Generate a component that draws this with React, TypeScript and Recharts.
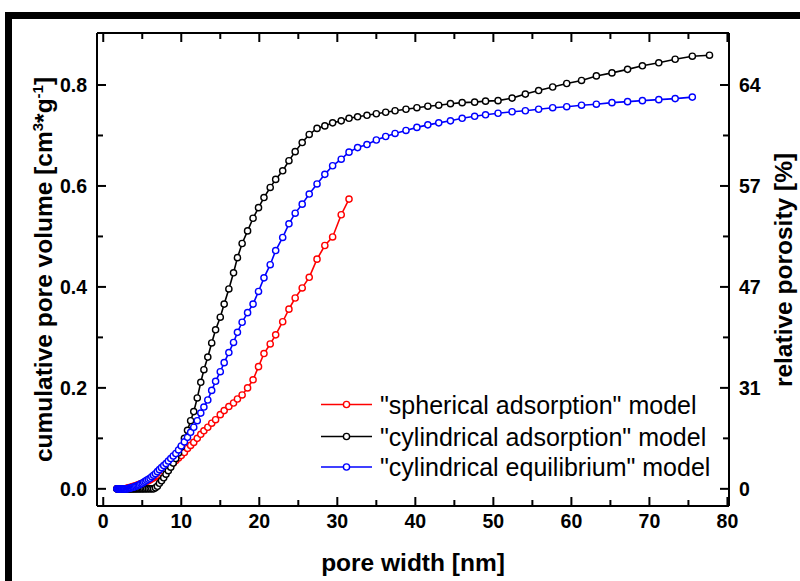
import React from "react";
import { LineChart, Line, XAxis, YAxis } from "recharts";

// pore width [nm] grid shared by the three models
const poreWidth = [
  1.75, 1.81, 1.88, 1.95, 2.02, 2.09, 2.17, 2.25, 2.33, 2.42,
  2.51, 2.6, 2.7, 2.8, 2.9, 3.01, 3.12, 3.24, 3.36, 3.48,
  3.61, 3.74, 3.88, 4.02, 4.17, 4.32, 4.48, 4.65, 4.82, 5.0,
  5.18, 5.37, 5.57, 5.78, 6.0, 6.22, 6.45, 6.69, 6.94, 7.2,
  7.47, 7.75, 8.04, 8.34, 8.65, 8.97, 9.3, 9.65, 10.0, 10.4,
  10.8, 11.2, 11.6, 12.05, 12.5, 12.9, 13.4, 13.9, 14.4, 15.0,
  15.5, 16.1, 16.7, 17.2, 17.8, 18.5, 19.2, 19.9, 20.6, 21.4,
  22.1, 23.0, 23.8, 24.6, 25.5, 26.4, 27.4, 28.4, 29.4, 30.5,
  31.5, 32.6, 33.8, 35.0, 36.2, 37.4, 38.8, 40.2, 41.6, 43.0,
  44.5, 46.0, 47.6, 49.0, 50.6, 52.4, 54.1, 55.8, 57.6, 59.4,
  61.3, 63.2, 65.2, 67.2, 69.1, 71.2, 73.3, 75.5, 77.7,
];

// "spherical adsorption" model [cm3/g]
const sphericalAdsorption = [
  0, 0, 0, 0, 0, 0, 0, 0, 0, 0,
  0, 0, 0, 0, 0, 0.001, 0.001, 0.002, 0.002, 0.003,
  0.003, 0.004, 0.005, 0.005, 0.006, 0.007, 0.008, 0.009, 0.01, 0.011,
  0.012, 0.013, 0.015, 0.016, 0.018, 0.02, 0.022, 0.024, 0.026, 0.029,
  0.032, 0.035, 0.038, 0.041, 0.046, 0.051, 0.056, 0.061, 0.066, 0.072,
  0.08, 0.086, 0.092, 0.1, 0.108, 0.115, 0.122, 0.13, 0.137, 0.147,
  0.155, 0.163, 0.17, 0.178, 0.186, 0.2, 0.216, 0.242, 0.268, 0.287,
  0.305, 0.331, 0.356, 0.378, 0.398, 0.419, 0.455, 0.482, 0.499, 0.543,
  0.574,
];

// "cylindrical adsorption" model [cm3/g]
const cylindricalAdsorption = [
  0, 0, 0, 0, 0, 0, 0, 0, 0, 0,
  0, 0, 0, 0, 0, 0, 0, 0, 0, 0,
  0, 0, 0, 0, 0, 0, 0, 0, 0, 0,
  0, 0, 0, 0, 0, 0, 0, 0.002, 0.005, 0.011,
  0.016, 0.022, 0.029, 0.036, 0.043, 0.051, 0.06, 0.071, 0.083, 0.1,
  0.116, 0.135, 0.153, 0.18, 0.211, 0.236, 0.261, 0.289, 0.315, 0.34,
  0.366, 0.396, 0.428, 0.458, 0.486, 0.511, 0.536, 0.557, 0.577, 0.597,
  0.613, 0.63, 0.65, 0.668, 0.686, 0.702, 0.714, 0.719, 0.725, 0.729,
  0.734, 0.737, 0.74, 0.743, 0.746, 0.749, 0.752, 0.755, 0.758, 0.76,
  0.763, 0.765, 0.766, 0.768, 0.769, 0.774, 0.782, 0.789, 0.796, 0.803,
  0.809, 0.818, 0.824, 0.831, 0.838, 0.844, 0.851, 0.857, 0.859,
];

// "cylindrical equilibrium" model [cm3/g]
const cylindricalEquilibrium = [
  0, 0, 0, 0, 0, 0, 0, 0, 0, 0,
  0, 0, 0, 0, 0, 0, 0, 0.001, 0.001, 0.002,
  0.002, 0.003, 0.003, 0.004, 0.005, 0.006, 0.007, 0.008, 0.01, 0.011,
  0.013, 0.015, 0.017, 0.019, 0.021, 0.024, 0.027, 0.03, 0.034, 0.038,
  0.042, 0.046, 0.05, 0.055, 0.06, 0.065, 0.07, 0.077, 0.085, 0.093,
  0.102, 0.112, 0.122, 0.135, 0.15, 0.162, 0.176, 0.195, 0.213, 0.232,
  0.25, 0.27, 0.29, 0.31, 0.33, 0.349, 0.366, 0.391, 0.418, 0.444,
  0.472, 0.498, 0.525, 0.546, 0.564, 0.584, 0.604, 0.623, 0.64, 0.653,
  0.667, 0.676, 0.682, 0.691, 0.698, 0.704, 0.71, 0.716, 0.721, 0.725,
  0.729, 0.734, 0.738, 0.741, 0.744, 0.747, 0.749, 0.752, 0.755, 0.757,
  0.76, 0.762, 0.765, 0.767, 0.769, 0.771, 0.773, 0.776,
];

const xTicks = [0, 5, 10, 15, 20, 25, 30, 35, 40, 45, 50, 55, 60, 65, 70, 75, 80];
const yTicks = [0, 0.1, 0.2, 0.3, 0.4, 0.5, 0.6, 0.7, 0.8];
const rightTickLabels = ["0", "31", "47", "57", "64"];

const seriesNames = [
  '"spherical adsorption" model',
  '"cylindrical adsorption" model',
  '"cylindrical equilibrium" model',
];
const seriesColors = ["#ff0000", "#000000", "#0000ff"];

const data = poreWidth.map((x, i) => ({
  x,
  sph: i < sphericalAdsorption.length ? sphericalAdsorption[i] : null,
  cyl: i < cylindricalAdsorption.length ? cylindricalAdsorption[i] : null,
  eq: i < cylindricalEquilibrium.length ? cylindricalEquilibrium[i] : null,
}));

const X_DOMAIN: [number, number] = [-0.8, 80.2];
const Y_DOMAIN: [number, number] = [-0.034, 0.903];

const FONT = '"Liberation Sans", Arial, Helvetica, sans-serif';
const TICK_FS = 19.5;
const MAJ = 9;
const MIN = 6;
const TW = 2;

// tick marks (inward) + labels drawn from the axis' own tick coordinates
const BottomTick = (p: any) => {
  const major = p.index % 2 === 0;
  return (
    <g>
      <path d={`M${p.x},${p.y}V${p.y - (major ? MAJ : MIN)}`} stroke="#000" strokeWidth={TW} fill="none" />
      {major && (
        <text x={p.x} y={p.y + 22} textAnchor="middle" fontFamily={FONT} fontWeight="bold" fontSize={TICK_FS} fill="#000">
          {String(p.payload.value)}
        </text>
      )}
    </g>
  );
};

const TopTick = (p: any) => {
  const major = p.index % 2 === 0;
  return <path d={`M${p.x},${p.y}V${p.y + (major ? MAJ : MIN)}`} stroke="#000" strokeWidth={TW} fill="none" />;
};

const LeftTick = (p: any) => {
  const major = p.index % 2 === 0;
  return (
    <g>
      <path d={`M${p.x},${p.y}H${p.x + (major ? MAJ : MIN)}`} stroke="#000" strokeWidth={TW} fill="none" />
      {major && (
        <text x={p.x - 10} y={p.y + 7} textAnchor="end" fontFamily={FONT} fontWeight="bold" fontSize={TICK_FS} fill="#000">
          {Number(p.payload.value).toFixed(1)}
        </text>
      )}
    </g>
  );
};

const RightTick = (p: any) => {
  const major = p.index % 2 === 0;
  return (
    <g>
      <path d={`M${p.x},${p.y}H${p.x - (major ? MAJ : MIN)}`} stroke="#000" strokeWidth={TW} fill="none" />
      {major && (
        <text x={p.x + 10} y={p.y + 7} textAnchor="start" fontFamily={FONT} fontWeight="bold" fontSize={TICK_FS} fill="#000">
          {rightTickLabels[p.index / 2]}
        </text>
      )}
    </g>
  );
};

const dotStyle = (c: string) => ({ r: 3.1, fill: "#ffffff", stroke: c, strokeWidth: 1.4 });

export default function App() {
  const legendRows = [404.5, 436.5, 467];
  return (
    <div style={{ position: "absolute", left: 0, top: 0, width: 800, height: 581, background: "#fff" }}>
      <LineChart width={800} height={581} data={data} margin={{ top: 32, right: 70, bottom: 74, left: 96 }}>
        <XAxis
          xAxisId="b"
          dataKey="x"
          type="number"
          orientation="bottom"
          domain={X_DOMAIN}
          allowDataOverflow
          ticks={xTicks}
          interval={0}
          height={1}
          tickSize={0}
          tickMargin={0}
          tickLine={false}
          tick={(p: any) => <BottomTick {...p} />}
          axisLine={{ stroke: "#000", strokeWidth: 2 }}
        />
        <XAxis
          xAxisId="t"
          dataKey="x"
          type="number"
          orientation="top"
          domain={X_DOMAIN}
          allowDataOverflow
          ticks={xTicks}
          interval={0}
          height={1}
          tickSize={0}
          tickMargin={0}
          tickLine={false}
          tick={(p: any) => <TopTick {...p} />}
          axisLine={{ stroke: "#000", strokeWidth: 2 }}
        />
        <YAxis
          yAxisId="l"
          type="number"
          orientation="left"
          domain={Y_DOMAIN}
          allowDataOverflow
          ticks={yTicks}
          interval={0}
          width={1}
          tickSize={0}
          tickMargin={0}
          tickLine={false}
          tick={(p: any) => <LeftTick {...p} />}
          axisLine={{ stroke: "#000", strokeWidth: 2 }}
        />
        <YAxis
          yAxisId="r"
          type="number"
          orientation="right"
          domain={Y_DOMAIN}
          allowDataOverflow
          ticks={yTicks}
          interval={0}
          width={1}
          tickSize={0}
          tickMargin={0}
          tickLine={false}
          tick={(p: any) => <RightTick {...p} />}
          axisLine={{ stroke: "#000", strokeWidth: 2 }}
        />
        <Line xAxisId="b" yAxisId="l" type="linear" dataKey="sph" name={seriesNames[0]} stroke={seriesColors[0]} strokeWidth={1.6} dot={dotStyle(seriesColors[0])} activeDot={false} isAnimationActive={false} />
        <Line xAxisId="t" yAxisId="r" type="linear" dataKey="cyl" name={seriesNames[1]} stroke={seriesColors[1]} strokeWidth={1.6} dot={dotStyle(seriesColors[1])} activeDot={false} isAnimationActive={false} />
        <Line xAxisId="b" yAxisId="l" type="linear" dataKey="eq" name={seriesNames[2]} stroke={seriesColors[2]} strokeWidth={1.6} dot={dotStyle(seriesColors[2])} activeDot={false} isAnimationActive={false} />
      </LineChart>
      <svg width={800} height={581} style={{ position: "absolute", left: 0, top: 0, pointerEvents: "none" }}>
        <rect x={5} y={12} width={795} height={7} fill="#000" />
        <rect x={5} y={12} width={7} height={569} fill="#000" />
        <text x={413} y={571} textAnchor="middle" fontFamily={FONT} fontWeight="bold" fontSize={24.5} fill="#000">
          pore width [nm]
        </text>
        <text
          x={52}
          y={269.5}
          textAnchor="middle"
          transform="rotate(-90 52 269.5)"
          fontFamily={FONT}
          fontWeight="bold"
          fontSize={24.5}
          fill="#000"
        >
          cumulative pore volume [cm
          <tspan dy={-9} fontSize={15}>3</tspan>
          <tspan dy={9}>*g</tspan>
          <tspan dy={-9} fontSize={15}>-1</tspan>
          <tspan dy={9}>]</tspan>
        </text>
        <text
          x={792}
          y={270}
          textAnchor="middle"
          transform="rotate(-90 792 270)"
          fontFamily={FONT}
          fontWeight="bold"
          fontSize={24.5}
          fill="#000"
        >
          relative porosity [%]
        </text>
        {legendRows.map((cy, i) => (
          <g key={i}>
            <line x1={321} x2={372} y1={cy} y2={cy} stroke={seriesColors[i]} strokeWidth={1.6} />
            <circle cx={346.5} cy={cy} r={3.1} fill="#fff" stroke={seriesColors[i]} strokeWidth={1.4} />
            <text x={380} y={cy + 9} fontFamily={FONT} fontSize={25} fill="#000">
              {seriesNames[i]}
            </text>
          </g>
        ))}
      </svg>
    </div>
  );
}
